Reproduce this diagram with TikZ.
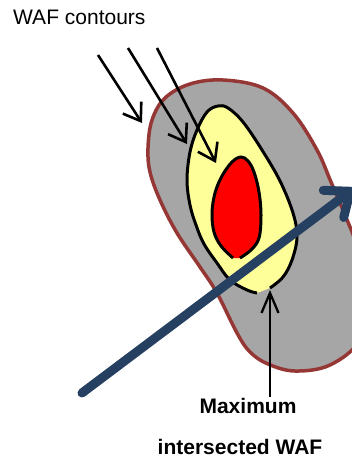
\documentclass[tikz,border=0pt]{standalone}
\usepackage{fontspec}
\setmainfont{Liberation Sans}
\usetikzlibrary{arrows.meta}
\definecolor{grayfill}{HTML}{A6A6A6}
\definecolor{darkred}{HTML}{953735}
\definecolor{lightyellow}{HTML}{FFFF99}
\definecolor{navy}{HTML}{264061}
\begin{document}
\begin{tikzpicture}[x=1pt,y=-1pt,
  lbl/.style={inner sep=0pt,font=\fontsize{21}{25}\selectfont},
  contourarrow/.style={black,line width=2.6pt,-{Straight Barb[length=16pt,width=22pt]}},
  maxarrow/.style={black,line width=2.3pt,-{Straight Barb[length=20pt,width=17pt]}},
  outline/.style={black,line width=3pt},
  blueline/.style={navy,line width=9pt,line cap=round,-{Straight Barb[length=21pt,width=34pt,line cap=round]}}]
\useasboundingbox (0,0) rectangle (352,457);
\begin{scope}
\clip (0,0) rectangle (352,457);
% gray region
\draw[darkred,line width=3.5pt,fill=grayfill] plot[smooth cycle,tension=0.6] coordinates {
 (223,80) (263,88) (293,113) (317,150) (331,182) (345,215) (358,250) (366,300)
 (360,340) (330,365) (295,371) (268,364) (250,352) (237,333) (217,293) (200,267)
 (177,233) (160,200) (150,172) (148,148) (152,120) (165,98) (190,84)};
% yellow region (open at bottom)
\draw[outline,fill=lightyellow] plot[smooth,tension=0.6] coordinates {
 (270,288) (283,277) (292,260) (297,237) (293,213) (280,181) (262,150) (243,122)
 (228,108) (218,106) (207,112) (197,130) (190,152) (187,180) (190,205) (196,225)
 (204,244) (217,263) (230,280) (247,290) (257,293)};
% red region (open at bottom)
\draw[outline,fill=red] plot[smooth,tension=0.6] coordinates {
 (240,258) (251,250) (259,238) (261,215) (259,192) (254,172) (248,161) (241,157)
 (232,162) (222,176) (215,193) (212,213) (214,232) (221,246) (233,258)};
% blue arrow
\coordinate (bs) at (82,393);
\coordinate (be) at (356,187);
\draw[blueline] (bs) -- (be);
\end{scope}
% contour arrows
\coordinate (a1s) at (98,55);  \coordinate (a1e) at (142,123);
\coordinate (a2s) at (128,48); \coordinate (a2e) at (187,144);
\coordinate (a3s) at (157,48); \coordinate (a3e) at (216,163);
\draw[contourarrow] (a1s) -- (a1e);
\draw[contourarrow] (a2s) -- (a2e);
\draw[contourarrow] (a3s) -- (a3e);
% labels
\node[lbl,anchor=base west] (waf) at (13,25) {WAF contours};
\node[lbl,anchor=base,font=\fontsize{21}{25}\selectfont\bfseries] (max) at (248,413) {Maximum};
\node[lbl,anchor=base,font=\fontsize{21}{25}\selectfont\bfseries] (inter) at (240,454) {intersected WAF};
\coordinate (mtip) at (270,290);
\coordinate (mstart) at (270,397);
\draw[maxarrow] (mstart) -- (mtip);
\end{tikzpicture}
\end{document}
